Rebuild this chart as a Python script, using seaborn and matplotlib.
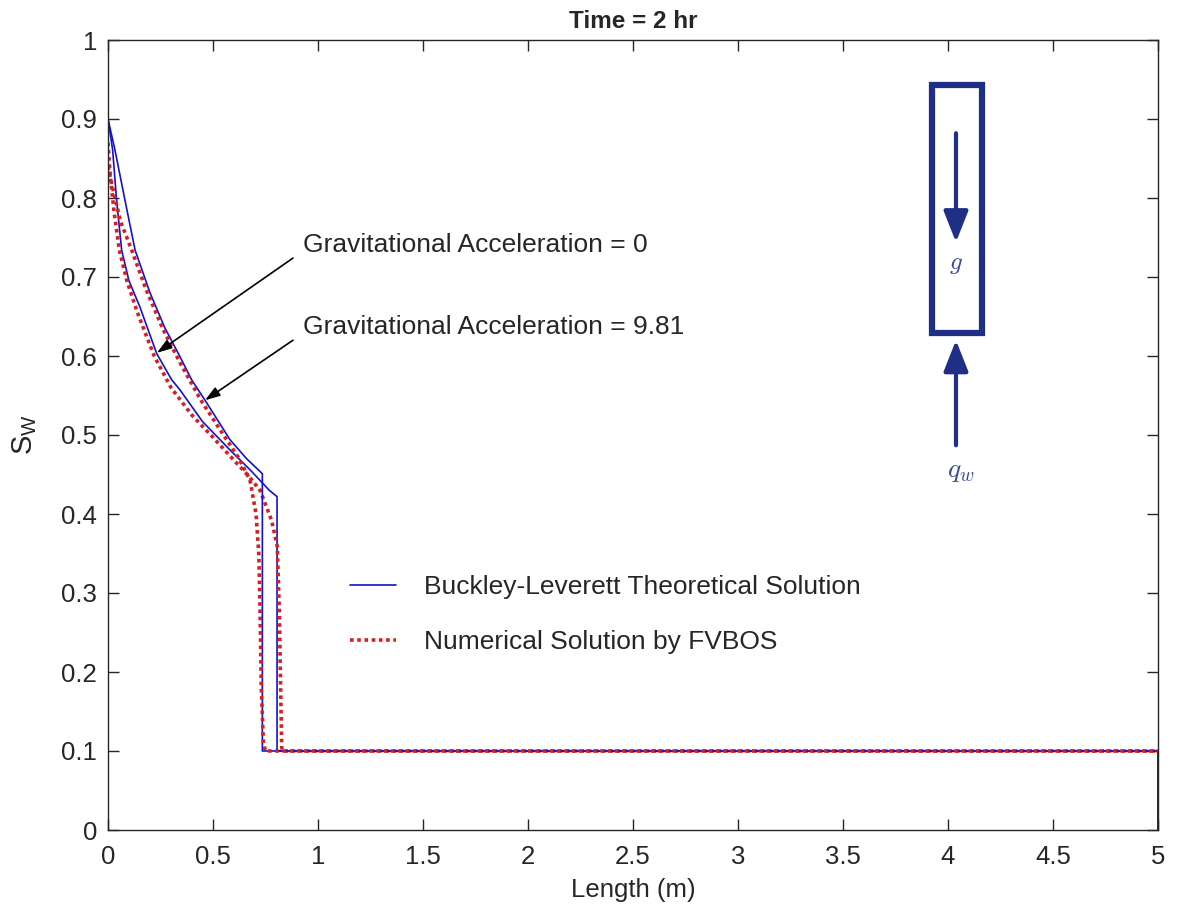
import numpy as np
import pandas as pd
import seaborn as sns
import matplotlib
matplotlib.use("Agg")
import matplotlib.pyplot as plt
from matplotlib.patches import Rectangle

# Buckley-Leverett theoretical profiles (water saturation vs. length)
bl_g0_x = [0.0, 0.022, 0.041, 0.065, 0.10, 0.152, 0.232, 0.303, 0.343, 0.45, 0.581, 0.68, 0.768, 0.805, 0.805, 5.0, 5.0]
bl_g0_sw = [0.90, 0.861, 0.797, 0.734, 0.695, 0.662, 0.603, 0.570, 0.557, 0.517, 0.481, 0.455, 0.430, 0.422, 0.10, 0.10, 0.0]

bl_g981_x = [0.0, 0.033, 0.081, 0.129, 0.20, 0.27, 0.343, 0.398, 0.462, 0.581, 0.66, 0.735, 0.735, 5.0, 5.0]
bl_g981_sw = [0.90, 0.861, 0.797, 0.734, 0.680, 0.636, 0.599, 0.570, 0.544, 0.494, 0.470, 0.451, 0.10, 0.10, 0.0]

# FVBOS numerical profiles
num_g0_x = [0.0, 0.01, 0.03, 0.054, 0.09, 0.14, 0.22, 0.30, 0.40, 0.50, 0.60, 0.67, 0.724, 0.779, 0.806, 0.816, 0.827, 0.83, 5.0]
num_g0_sw = [0.87, 0.83, 0.78, 0.734, 0.695, 0.655, 0.600, 0.560, 0.525, 0.497, 0.468, 0.448, 0.430, 0.392, 0.359, 0.275, 0.105, 0.10, 0.10]

num_g981_x = [0.0, 0.02, 0.06, 0.113, 0.18, 0.26, 0.34, 0.44, 0.55, 0.62, 0.676, 0.705, 0.718, 0.724, 0.73, 0.74, 0.75, 5.0]
num_g981_sw = [0.84, 0.815, 0.77, 0.734, 0.685, 0.635, 0.593, 0.545, 0.500, 0.472, 0.443, 0.40, 0.35, 0.28, 0.18, 0.11, 0.10, 0.10]

x_ticks = [0, 0.5, 1, 1.5, 2, 2.5, 3, 3.5, 4, 4.5, 5]
y_ticks = [0, 0.1, 0.2, 0.3, 0.4, 0.5, 0.6, 0.7, 0.8, 0.9, 1]

sns.set_style("ticks")
plt.rcParams["font.family"] = ["Liberation Sans", "DejaVu Sans"]
plt.rcParams["mathtext.fontset"] = "cm"

fig = plt.figure(figsize=(11.77, 9.17), dpi=100)
ax = fig.add_axes([108 / 1177, 1 - 830 / 917, 1050 / 1177, 790 / 917])

blue = "#1212d0"
red = "#d42020"
dots = (0, (1, 1))


def curve(x, y):
    return pd.DataFrame({"x": x, "y": y})


common = dict(x="x", y="y", sort=False, estimator=None, errorbar=None, ax=ax)
sns.lineplot(data=curve(bl_g0_x, bl_g0_sw), color=blue, lw=1.2,
             label="Buckley-Leverett Theoretical Solution", **common)
sns.lineplot(data=curve(num_g0_x, num_g0_sw), color=red, lw=2.6, ls=dots,
             label="Numerical Solution by FVBOS", **common)
sns.lineplot(data=curve(bl_g981_x, bl_g981_sw), color=blue, lw=1.2, legend=False, **common)
sns.lineplot(data=curve(num_g981_x, num_g981_sw), color=red, lw=2.6, ls=dots, legend=False, **common)

ax.set_xlim(0, 5)
ax.set_ylim(0, 1)
ax.set_xticks(x_ticks)
ax.set_xticklabels([f"{v:g}" for v in x_ticks])
ax.set_yticks(y_ticks)
ax.set_yticklabels([f"{v:g}" for v in y_ticks])
ax.tick_params(direction="in", length=8, width=1, colors="#262626", labelsize=18.5,
               top=True, right=True)
ax.tick_params(axis="x", pad=11)
ax.tick_params(axis="y", pad=8)
for s in ax.spines.values():
    s.set_color("#262626")
    s.set_linewidth(1.0)

ax.set_xlabel("Length (m)", fontsize=18.5, color="#262626", labelpad=6)
ax.set_ylabel(r"$\mathregular{S_W}$", fontsize=21, color="#262626", labelpad=16)
ax.set_title("Time = 2 hr", fontsize=17.5, fontweight="bold", pad=9)

ax.legend(loc="upper left", bbox_to_anchor=(0.2305, 0.323), frameon=False,
          fontsize=19, handlelength=1.75, handletextpad=1.05, labelspacing=1.2,
          borderaxespad=0, borderpad=0)

arrow_kw = dict(arrowstyle="-|>,head_length=0.9,head_width=0.3", color="black", lw=1.2,
                shrinkA=0, shrinkB=0)
ax.annotate("", xy=(0.233, 0.604), xytext=(0.881, 0.724), arrowprops=arrow_kw)
ax.annotate("", xy=(0.462, 0.544), xytext=(0.881, 0.620), arrowprops=arrow_kw)
ax.text(0.929, 0.741, "Gravitational Acceleration = 0", fontsize=19, va="center", ha="left")
ax.text(0.929, 0.637, "Gravitational Acceleration = 9.81", fontsize=19, va="center", ha="left")

# Column schematic: gravity downward, water injected from below
navy = "#1f2f86"
ax.add_patch(Rectangle((3.924, 0.629), 0.238, 0.314, fill=False, ec=navy, lw=4.5))
head = "-|>,head_length=1.9,head_width=0.75"
ax.annotate("", xy=(4.038, 0.744), xytext=(4.038, 0.882),
            arrowprops=dict(arrowstyle=head, color=navy, lw=3, shrinkA=0, shrinkB=0))
ax.annotate("", xy=(4.038, 0.620), xytext=(4.038, 0.487),
            arrowprops=dict(arrowstyle=head, color=navy, lw=3, shrinkA=0, shrinkB=0))
ax.text(4.04, 0.716, r"$g$", fontsize=18, color="#3a4a98", ha="center", va="center")
ax.text(4.06, 0.455, r"$q_w$", fontsize=20, color="#3a4a98", ha="center", va="center")

fig.savefig("out.png", dpi=100)
